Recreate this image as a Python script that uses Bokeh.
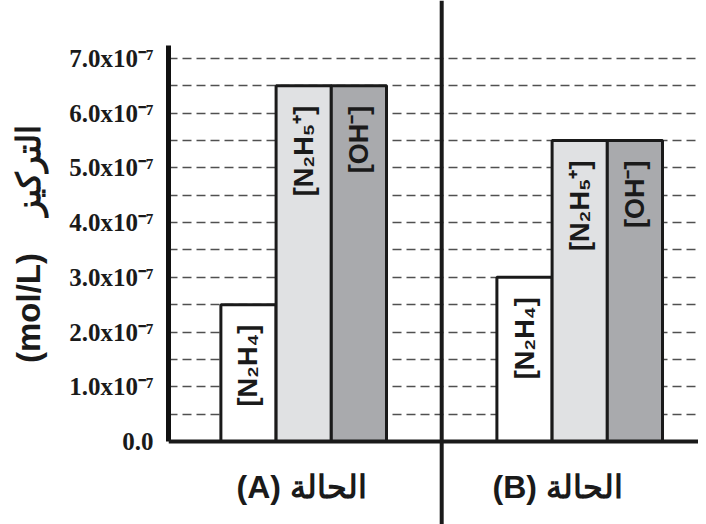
import math
from bokeh.plotting import figure
from bokeh.models import ColumnDataSource, Range1d, FixedTicker, Span
from bokeh.core.properties import value
from bokeh.embed import file_html
from bokeh.resources import INLINE

# ---- data (concentrations in units of 1e-7 mol/L) ----
species = ["[N₂H₄]", "[N₂H₅⁺]", "[OH⁻]"]
case_names = ["(A) الحالة", "(B) الحالة"]
case_a_conc = [2.5, 6.5, 6.5]
case_b_conc = [3.0, 5.5, 5.5]
tick_values = [0, 1, 2, 3, 4, 5, 6, 7]
tick_labels = ["0.0", "1.0x10⁻⁷", "2.0x10⁻⁷", "3.0x10⁻⁷", "4.0x10⁻⁷",
               "5.0x10⁻⁷", "6.0x10⁻⁷", "7.0x10⁻⁷"]
y_title = "\u00a0\u00a0\u00a0\u00a0(mol/L)\u00a0\u00a0\u00a0\u00a0التركيز"
bar_colors = ["#ffffff", "#e0e1e3", "#a9aaad"]

group_gap = 5
xs, tops, names, fills = [], [], [], []
for g, conc in enumerate([case_a_conc, case_b_conc]):
    for i, v in enumerate(conc):
        xs.append(1 + i + g * group_gap)
        tops.append(v)
        names.append(species[i])
        fills.append(bar_colors[i])
src = ColumnDataSource(dict(x=xs, top=tops, name=names, fill=fills))

group_centers = [sum(xs[g * 3:(g + 1) * 3]) / 3 for g in range(2)]
lab_src = ColumnDataSource(dict(x=group_centers, y=[0, 0], text=case_names,
                                dx=[-2, -22]))

p = figure(width=698, height=524, output_backend="svg", toolbar_location=None,
           x_axis_location=None,
           x_range=Range1d(-0.449, 9.152), y_range=Range1d(-1.517, 8.060),
           min_border_left=168, min_border_right=0, min_border_top=0,
           min_border_bottom=0)
p.outline_line_color = None
p.background_fill_color = "white"
p.xgrid.visible = False
p.ygrid.ticker = FixedTicker(ticks=[0.5 * k for k in range(1, 15)])
p.ygrid.grid_line_color = "#505050"
p.ygrid.grid_line_width = 1.4
p.ygrid.grid_line_dash = "9 5"

ax = p.yaxis[0]
ax.ticker = FixedTicker(ticks=tick_values)
ax.major_label_overrides = {t: l for t, l in zip(tick_values, tick_labels)}
ax.bounds = (0, 7.24)
ax.axis_line_width = 5
ax.axis_line_color = "#111111"
ax.major_tick_line_color = None
ax.minor_tick_line_color = None
ax.major_label_standoff = 9
ax.major_label_text_font = "Liberation Serif"
ax.major_label_text_font_style = "bold"
ax.major_label_text_font_size = "25px"
ax.major_label_text_color = "#1a1a1a"
ax.axis_label = y_title
ax.axis_label_text_font = "Liberation Sans"
ax.axis_label_text_font_style = "bold"
ax.axis_label_text_font_size = "33px"
ax.axis_label_text_color = "#1a1a1a"
ax.axis_label_standoff = 19

p.vbar(x="x", top="top", bottom=0, width=1, source=src, fill_color="fill",
       line_color="#1a1a1a", line_width=3)

p.text(x="x", y="top", text="name", source=src, angle=math.pi / 2,
       text_align="right", text_baseline="middle", y_offset=20,
       text_font=value("Liberation Sans"), text_font_style="bold",
       text_font_size="27px", text_color="#1a1a1a")

p.text(x="x", y="y", text="text", source=lab_src, x_offset="dx", y_offset=46,
       text_align="center", text_baseline="middle",
       text_font=value("Liberation Sans"), text_font_style="bold",
       text_font_size="32px", text_color="#1a1a1a")

p.add_layout(Span(location=0, dimension="width", line_color="#1a1a1a",
                  line_width=4))
p.add_layout(Span(location=(group_centers[0] + group_centers[1]) / 2,
                  dimension="height", line_color="#1a1a1a", line_width=4))

open("out.html", "w").write(file_html(p, INLINE))
